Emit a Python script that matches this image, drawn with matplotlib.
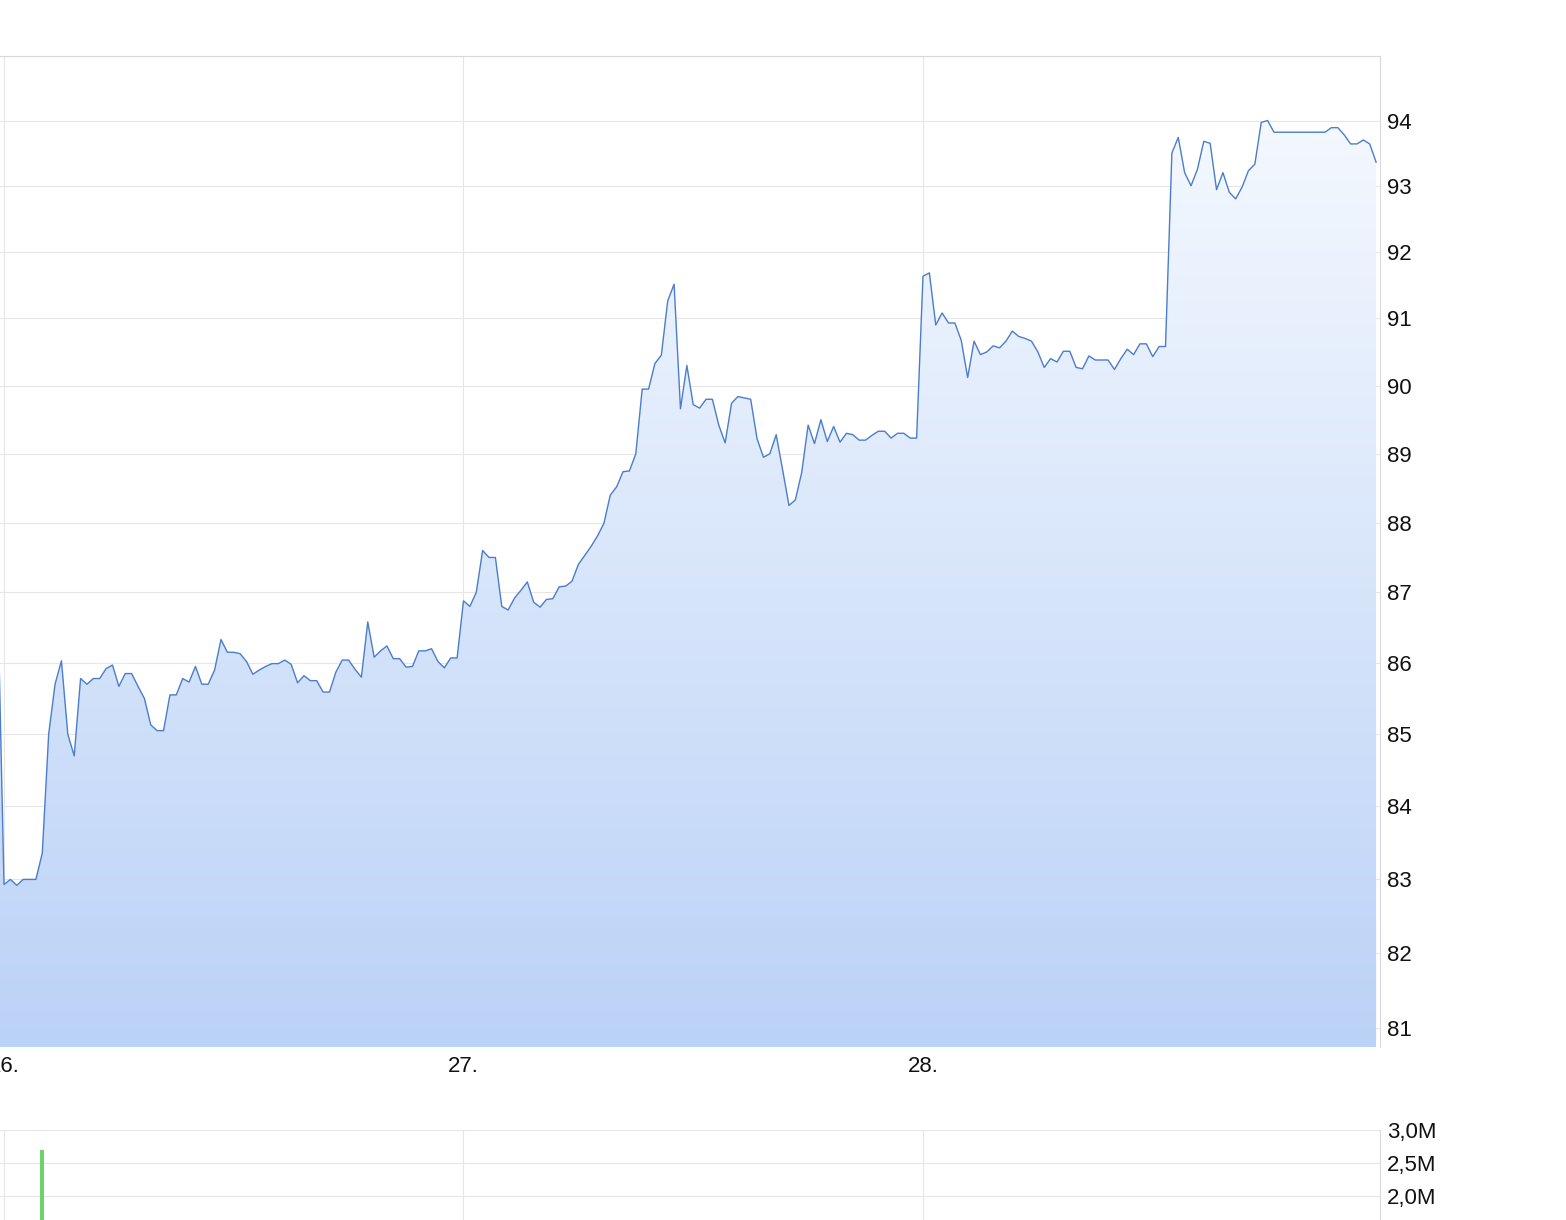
import matplotlib
matplotlib.use('Agg')
import matplotlib.pyplot as plt
import numpy as np
from matplotlib.ticker import FixedLocator, NullLocator, FuncFormatter
from matplotlib.colors import LinearSegmentedColormap

plt.rcParams['font.family'] = ['Liberation Sans', 'DejaVu Sans']

# ---------------- data ----------------
# 20-minute samples, first sample is the last one of the previous day
first_day = 26.0
samples_per_day = 72
price = [
    87.0,
    82.93, 83.0, 82.92, 83.0, 83.0, 83.0,
    83.36, 85.0, 85.7, 86.03, 85.0, 84.7,
    85.78, 85.7, 85.78, 85.78, 85.92, 85.97,
    85.67, 85.85, 85.85, 85.67, 85.5, 85.13,
    85.05, 85.05, 85.55, 85.55, 85.78, 85.73,
    85.95, 85.7, 85.7, 85.9, 86.33, 86.15,
    86.15, 86.13, 86.02, 85.84, 85.9, 85.95,
    85.99, 85.99, 86.04, 85.98, 85.72, 85.82,
    85.75, 85.75, 85.59, 85.59, 85.87, 86.04,
    86.04, 85.91, 85.8, 86.58, 86.08, 86.17,
    86.24, 86.06, 86.06, 85.94, 85.95, 86.17,
    86.17, 86.2, 86.02, 85.93, 86.07, 86.07,
    86.88, 86.8, 87.0, 87.6, 87.5, 87.5,
    86.8, 86.75, 86.92, 87.03, 87.15, 86.86,
    86.79, 86.9, 86.91, 87.08, 87.09, 87.16,
    87.4, 87.53, 87.66, 87.81, 87.99, 88.4,
    88.52, 88.74, 88.75, 89.0, 89.95, 89.95,
    90.33, 90.45, 91.26, 91.51, 89.66, 90.3,
    89.72, 89.67, 89.8, 89.8, 89.42, 89.16,
    89.74, 89.84, 89.82, 89.8, 89.22, 88.95,
    89.0, 89.28, 88.77, 88.25, 88.33, 88.73,
    89.42, 89.15, 89.5, 89.18, 89.4, 89.17,
    89.3, 89.28, 89.2, 89.2, 89.27, 89.33,
    89.33, 89.23, 89.3, 89.3, 89.23, 89.23,
    91.63, 91.68, 90.9, 91.08, 90.93, 90.93,
    90.67, 90.12, 90.66, 90.46, 90.5, 90.59,
    90.56, 90.66, 90.81, 90.73, 90.7, 90.66,
    90.5, 90.27, 90.4, 90.35, 90.51, 90.51,
    90.27, 90.25, 90.44, 90.38, 90.38, 90.38,
    90.24, 90.4, 90.54, 90.46, 90.62, 90.62,
    90.43, 90.58, 90.58, 93.5, 93.74, 93.2,
    93.0, 93.25, 93.68, 93.65, 92.94, 93.2,
    92.9, 92.8, 92.98, 93.23, 93.33, 93.97,
    94.0, 93.82, 93.82, 93.82, 93.82, 93.82,
    93.82, 93.82, 93.82, 93.82, 93.89, 93.89,
    93.78, 93.64, 93.64, 93.7, 93.64, 93.36,
]
price_ticks = [81, 82, 83, 84, 85, 86, 87, 88, 89, 90, 91, 92, 93, 94]
day_ticks = [26, 27, 28]
day_labels = ["26.", "27.", "28."]

# visible volume bar (sample index counted from first sample of day 26)
volume_index = [6]
volume_values = [2.7e6]
volume_ticks = [2.0e6, 2.5e6, 3.0e6]

# ---------------- figure ----------------
W, H = 1566, 1220
fig = plt.figure(figsize=(W / 100, H / 100), dpi=100)


def rect(l, t, r, b):
    return [l / W, 1 - b / H, (r - l) / W, (b - t) / H]


x = first_day + (np.arange(len(price)) - 1) / samples_per_day
xmin, xmax = 25.9913, 28.9946
ymin, ymax = 80.75, 95.0

grid_c = '#e6e6e6'
spine_c = '#d9d9d9'
txt_c = '#111111'
fs = 16

ax = fig.add_axes(rect(0, 56, 1380, 1047))
ax.set_yscale('log')
ax.set_xlim(xmin, xmax)
ax.set_ylim(ymin, ymax)
ax.set_autoscale_on(False)

poly = ax.fill_between(x, price, ymin, color='none', lw=0)
cmap = LinearSegmentedColormap.from_list('g', ['#bbd2f7', '#f8fbff'])
grad = np.linspace(0, 1, 256).reshape(-1, 1)
im = ax.imshow(grad, extent=[0, 1, 0, 1], origin='lower', transform=ax.transAxes,
               aspect='auto', cmap=cmap, zorder=1, interpolation='bicubic')
im.set_clip_path(poly.get_paths()[0], transform=ax.transData)
ax.plot(x, price, color='#4a7dcc', lw=1.0, zorder=3)

ax.set_xlim(xmin, xmax)
ax.set_ylim(ymin, ymax)

ax.yaxis.tick_right()
ax.yaxis.set_major_locator(FixedLocator(price_ticks))
ax.yaxis.set_minor_locator(NullLocator())
ax.yaxis.set_major_formatter(FuncFormatter(lambda v, p: f"{v:.0f}"))
ax.set_xticks(day_ticks)
ax.set_xticklabels(day_labels)
ax.tick_params(axis='y', length=0, pad=5, labelsize=fs, labelcolor=txt_c)
ax.tick_params(axis='x', length=0, pad=6.5, labelsize=fs, labelcolor=txt_c)
ax.grid(True, color=grid_c, lw=0.8, zorder=0)
ax.set_axisbelow(True)
for s in ['left', 'bottom']:
    ax.spines[s].set_visible(False)
for s in ['top', 'right']:
    ax.spines[s].set_color(spine_c)
    ax.spines[s].set_linewidth(0.8)

# ---------------- volume panel ----------------
vax = fig.add_axes(rect(0, 1130, 1380, 1328))
vx = first_day + np.array(volume_index) / samples_per_day
vax.bar(vx, volume_values, width=4.0 / 459.5, color='#6dd36d', zorder=3)
vax.set_xlim(xmin, xmax)
vax.set_ylim(0, 3.0e6)
vax.yaxis.tick_right()
vax.yaxis.set_major_locator(FixedLocator(volume_ticks))
vax.yaxis.set_major_formatter(FuncFormatter(lambda v, p: f"{v/1e6:.1f}M".replace('.', ',')))
vax.set_xticks(day_ticks)
vax.set_xticklabels([])
vax.tick_params(axis='y', length=0, pad=5, labelsize=fs, labelcolor=txt_c)
vax.tick_params(axis='x', length=0)
vax.grid(True, color=grid_c, lw=0.8, zorder=0)
vax.set_axisbelow(True)
for s in ['left', 'bottom', 'top']:
    vax.spines[s].set_visible(False)
vax.spines['right'].set_color(spine_c)
vax.spines['right'].set_linewidth(0.8)

fig.savefig('out.png', dpi=100)
